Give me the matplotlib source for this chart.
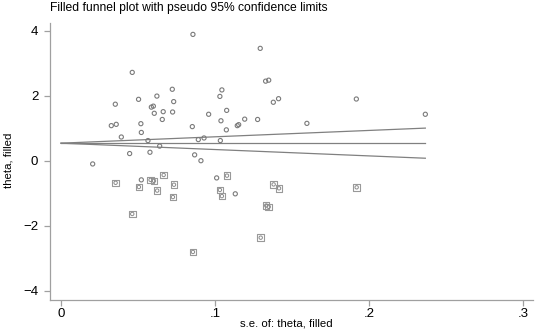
import matplotlib
matplotlib.use("Agg")
import matplotlib.pyplot as plt
import numpy as np

plt.rcParams['font.family'] = ['Liberation Sans', 'DejaVu Sans']

# observed studies (s.e., theta)
se_obs = [0.0463, 0.0723, 0.0353, 0.0504, 0.0623, 0.0732, 0.0587, 0.0600, 0.0606, 0.0664,
          0.0725, 0.0658, 0.0327, 0.0359, 0.0519, 0.0522, 0.0392, 0.0565, 0.0641, 0.0446,
          0.0578, 0.0206, 0.0857, 0.1294, 0.1329, 0.1349, 0.1045, 0.1032, 0.1379, 0.1413,
          0.0959, 0.1076, 0.1039, 0.1193, 0.1277, 0.1597, 0.0853, 0.1145, 0.1154, 0.1074,
          0.0892, 0.0929, 0.1035, 0.0868, 0.0909, 0.1918, 0.2366, 0.0522, 0.1011, 0.1132]
theta_obs = [2.72, 2.20, 1.74, 1.89, 1.99, 1.82, 1.65, 1.68, 1.46, 1.51,
             1.50, 1.27, 1.08, 1.12, 1.14, 0.87, 0.73, 0.62, 0.45, 0.22,
             0.26, -0.10, 3.89, 3.46, 2.45, 2.48, 2.18, 1.98, 1.80, 1.91,
             1.43, 1.55, 1.23, 1.28, 1.27, 1.15, 1.05, 1.08, 1.11, 0.95,
             0.65, 0.70, 0.62, 0.18, 0.00, 1.90, 1.43, -0.59, -0.53, -1.02]

# filled (imputed) studies
se_fill = [0.0355, 0.0506, 0.0582, 0.0604, 0.0667, 0.0734, 0.0625, 0.0727, 0.0463, 0.1078,
           0.1032, 0.1045, 0.1381, 0.1416, 0.1333, 0.1349, 0.1297, 0.0857, 0.1920]
theta_fill = [-0.68, -0.81, -0.59, -0.62, -0.44, -0.74, -0.92, -1.12, -1.64, -0.46,
              -0.90, -1.09, -0.73, -0.85, -1.38, -1.42, -2.37, -2.81, -0.82]

pooled = 0.54
se_max = max(se_obs + se_fill)

fig = plt.figure(figsize=(5.36, 3.32), dpi=100)
ax = fig.add_axes([0.0933, 0.0964, 0.9005, 0.8352])

gray = '#808080'
se_line = np.array([0.0, se_max])
ax.plot(se_line, [pooled, pooled], color=gray, lw=0.9)
ax.plot(se_line, pooled + 1.96 * se_line, color=gray, lw=0.9)
ax.plot(se_line, pooled - 1.96 * se_line, color=gray, lw=0.9)

ax.scatter(se_obs, theta_obs, s=9, marker='o', facecolors='none',
           edgecolors='#7a7a7a', linewidths=0.8, zorder=3)
ax.scatter(se_fill, theta_fill, s=22, marker='s', facecolors='none',
           edgecolors='#999999', linewidths=0.8, zorder=3)
ax.scatter(se_fill, theta_fill, s=6, marker='o', facecolors='none',
           edgecolors='#8a8a8a', linewidths=0.7, zorder=4)

ax.set_xlim(-0.0071, 0.3063)
ax.set_ylim(-4.29, 4.25)
ax.set_xticks([0, 0.1, 0.2, 0.3])
ax.set_xticklabels(['0', '.1', '.2', '.3'])
ax.set_yticks([-4, -2, 0, 2, 4])

for s in ['top', 'right']:
    ax.spines[s].set_visible(False)
for s in ['left', 'bottom']:
    ax.spines[s].set_color('#a0a0a0')
    ax.spines[s].set_linewidth(0.9)
ax.tick_params(colors='#a0a0a0', labelcolor='black', labelsize=9.5, length=4.5, width=0.9)
ax.tick_params(axis='y', pad=4)
ax.tick_params(axis='x', pad=1)

# axis titles placed as figure text to match the reference positions
fig.text(0.535, 0.027, 's.e. of: theta, filled', fontsize=8.2, ha='center', va='center')
fig.text(0.016, 0.518, 'theta, filled', fontsize=8.2, ha='center', va='center', rotation=90)
fig.text(0.0933, 0.975, 'Filled funnel plot with pseudo 95% confidence limits',
         fontsize=8.7, va='center', ha='left')

fig.savefig('out.png', dpi=100)
